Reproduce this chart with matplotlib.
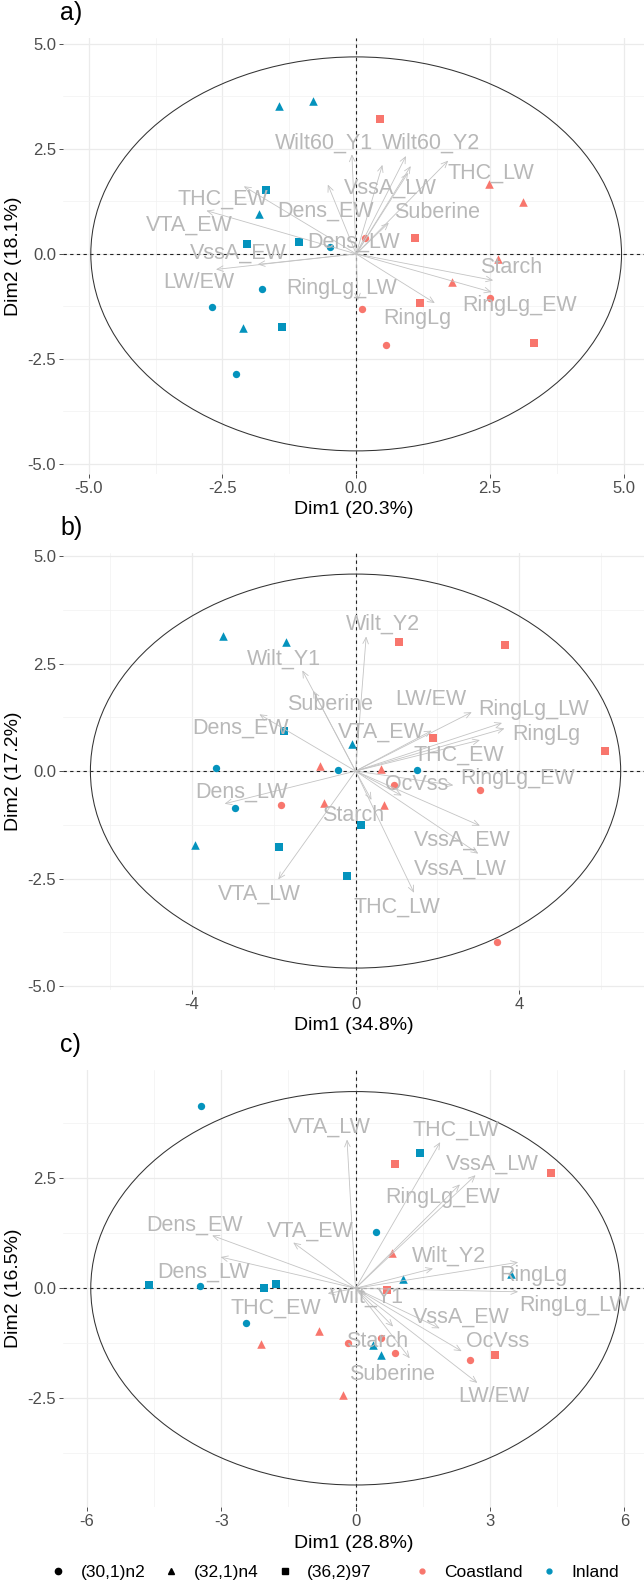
import matplotlib
matplotlib.use('Agg')
import matplotlib.pyplot as plt
from matplotlib.patches import Ellipse
from matplotlib.lines import Line2D

plt.rcParams['font.family'] = ['Liberation Sans', 'DejaVu Sans']
plt.rcParams['axes.unicode_minus'] = False

COAST = '#F8766D'
INLAND = '#0493BD'
REGION_COLORS = {'Coastland': COAST, 'Inland': INLAND}
CLONES = ['(30,1)n2', '(32,1)n4', '(36,2)97']
CLONE_MARKERS = {'(30,1)n2': 'o', '(32,1)n4': '^', '(36,2)97': 's'}
CLONE_SIZES = {'(30,1)n2': 28, '(32,1)n4': 38, '(36,2)97': 30}

# ---- panel a: individuals ----
a_x = [-1.45, -0.81, -1.68, -1.82, -2.05, -1.07, -0.49, -1.76, -2.70, -2.11, -1.38, -2.25,
       0.44, 2.48, 3.12, 0.16, 1.10, 2.65, 1.79, 2.50, 0.10, 1.19, 0.56, 3.33]
a_y = [3.52, 3.64, 1.51, 0.95, 0.23, 0.28, 0.16, -0.83, -1.26, -1.77, -1.75, -2.86,
       3.21, 1.67, 1.23, 0.37, 0.37, -0.13, -0.68, -1.04, -1.31, -1.18, -2.17, -2.11]
a_region = ['Inland'] * 12 + ['Coastland'] * 12
a_clone = ['(32,1)n4', '(32,1)n4', '(36,2)97', '(32,1)n4', '(36,2)97', '(36,2)97',
           '(30,1)n2', '(30,1)n2', '(30,1)n2', '(32,1)n4', '(36,2)97', '(30,1)n2',
           '(36,2)97', '(32,1)n4', '(32,1)n4', '(30,1)n2', '(36,2)97', '(32,1)n4',
           '(32,1)n4', '(30,1)n2', '(30,1)n2', '(36,2)97', '(30,1)n2', '(36,2)97']

# ---- panel a: variables ----
a_vars = ['Wilt60_Y1', 'Wilt60_Y2', 'THC_LW', 'VssA_LW', 'Dens_EW', 'Suberine', 'OcVss',
          'THC_EW', 'VTA_EW', 'Dens_LW', 'VssA_EW', 'LW/EW', 'RingLg_LW', 'Starch',
          'RingLg_EW', 'RingLg']
a_var_x = [-0.08, 0.93, 1.72, 0.49, -0.53, 1.02, 0.97, -2.10, -2.80, 0.61, -1.84, -2.62,
           0.03, 2.56, 2.53, 1.47]
a_var_y = [2.37, 2.33, 2.22, 2.12, 1.65, 2.09, 1.93, 1.61, 1.03, 0.74, -0.25, -0.37,
           -1.11, -0.63, -0.91, -1.17]
a_lab_x = [-0.61, 1.39, 2.52, 0.64, -0.57, 1.52, None, -2.49, -3.12, -0.04, -2.21, -2.95,
           -0.28, 2.89, 3.05, 1.14]
a_lab_y = [2.64, 2.63, 1.93, 1.57, 1.01, 0.99, None, 1.30, 0.69, 0.28, 0.02, -0.68,
           -0.82, -0.33, -1.23, -1.54]

# ---- panel b: individuals ----
b_x = [-3.25, -1.70, -1.76, -0.09, -3.42, -0.43, 1.50, -2.94, 0.13, -3.92, -1.86, -0.20,
       1.05, 3.66, 1.89, 6.10, -0.86, 0.61, 0.94, 3.05, -1.83, -0.78, 0.70, 3.46]
b_y = [3.14, 2.99, 0.93, 0.63, 0.06, 0.03, 0.02, -0.86, -1.25, -1.71, -1.76, -2.43,
       2.99, 2.94, 0.78, 0.46, 0.12, 0.04, -0.33, -0.44, -0.78, -0.74, -0.79, -3.97]
b_region = ['Inland'] * 12 + ['Coastland'] * 12
b_clone = ['(32,1)n4', '(32,1)n4', '(36,2)97', '(32,1)n4', '(30,1)n2', '(30,1)n2',
           '(30,1)n2', '(30,1)n2', '(36,2)97', '(32,1)n4', '(36,2)97', '(36,2)97',
           '(36,2)97', '(36,2)97', '(36,2)97', '(36,2)97', '(32,1)n4', '(32,1)n4',
           '(30,1)n2', '(30,1)n2', '(30,1)n2', '(32,1)n4', '(32,1)n4', '(30,1)n2']

# ---- panel b: variables ----
b_vars = ['Wilt_Y2', 'Wilt_Y1', 'Suberine', 'LW/EW', 'RingLg_LW', 'RingLg', 'VTA_EW',
          'THC_EW', 'Dens_EW', 'OcVss', 'RingLg_EW', 'Dens_LW', 'Starch', 'VssA_EW',
          'VssA_LW', 'VTA_LW', 'THC_LW']
b_var_x = [0.26, -1.30, -1.04, 2.84, 3.58, 3.64, 1.86, 3.04, -2.35, 2.39, 1.13, -3.20,
           0.39, 3.04, 3.00, -1.89, 1.43]
b_var_y = [3.13, 2.34, 1.87, 1.37, 1.12, 0.99, 0.94, 0.72, 1.32, -0.33, -0.57, -0.76,
           -0.67, -1.27, -1.92, -2.52, -2.83]
b_lab_x = [0.66, -1.75, -0.63, 1.85, 4.36, 4.66, 0.64, 2.53, -2.81, 1.50, 3.96, -2.79,
           -0.06, 2.62, 2.57, -2.35, 1.02]
b_lab_y = [3.41, 2.59, 1.55, 1.66, 1.44, 0.86, 0.91, 0.38, 0.99, -0.32, -0.18, -0.50,
           -1.03, -1.60, -2.28, -2.86, -3.17]

# ---- panel c: individuals ----
c_x = [-3.44, 1.43, 0.46, 1.06, 3.48, -4.61, -3.47, -2.05, -1.77, -2.44, 0.39, 0.56,
       0.88, 4.37, 0.82, 0.70, -0.82, -2.11, 0.56, -0.17, 0.88, 2.56, 3.12, -0.27]
c_y = [4.15, 3.07, 1.28, 0.20, 0.33, 0.07, 0.05, 0.00, 0.10, -0.78, -1.30, -1.52,
       2.82, 2.62, 0.81, -0.04, -0.97, -1.26, -1.13, -1.25, -1.47, -1.64, -1.51, -2.43]
c_region = ['Inland'] * 12 + ['Coastland'] * 12
c_clone = ['(30,1)n2', '(36,2)97', '(30,1)n2', '(32,1)n4', '(32,1)n4', '(36,2)97',
           '(30,1)n2', '(36,2)97', '(36,2)97', '(30,1)n2', '(32,1)n4', '(32,1)n4',
           '(36,2)97', '(36,2)97', '(32,1)n4', '(36,2)97', '(32,1)n4', '(32,1)n4',
           '(30,1)n2', '(30,1)n2', '(30,1)n2', '(30,1)n2', '(36,2)97', '(32,1)n4']

# ---- panel c: variables ----
c_vars = ['VTA_LW', 'THC_LW', 'VssA_LW', 'RingLg_EW', 'Dens_EW', 'VTA_EW', 'Dens_LW',
          'Wilt_Y2', 'RingLg', 'RingLg_LW', 'THC_EW', 'Wilt_Y1', 'VssA_EW', 'OcVss',
          'Starch', 'Suberine', 'LW/EW']
c_var_x = [-0.19, 1.89, 2.68, 2.33, -3.20, -1.39, -3.01, 1.73, 3.63, 3.63, -0.62, 0.25,
           1.88, 2.37, 0.84, 1.21, 2.72]
c_var_y = [3.38, 3.32, 2.57, 2.36, 1.20, 1.04, 0.71, 0.45, 0.59, -0.08, -0.12, -0.15,
           -0.91, -1.43, -0.87, -1.59, -2.15]
c_lab_x = [-0.59, 2.24, 3.06, 1.94, -3.59, -1.02, -3.40, 2.08, 3.98, 4.90, -1.77, 0.25,
           2.36, 3.18, 0.48, 0.82, 3.09]
c_lab_y = [3.65, 3.59, 2.83, 2.06, 1.43, 1.30, 0.36, 0.73, 0.28, -0.39, -0.45, -0.20,
           -0.65, -1.21, -1.22, -1.96, -2.46]

W, H = 644, 1583
fig = plt.figure(figsize=(W / 100, H / 100), dpi=100)


def add_ax(left, top, right, bottom):
    return fig.add_axes([left / W, 1 - bottom / H, (right - left) / W, (bottom - top) / H])


def draw_panel(ax, xs, ys, regions, clones, vars_, vx, vy, lx, ly,
               ell, xlim, ylim, xticks, xticklabels, xminor, yticks, yticklabels, yminor,
               xlabel, ylabel, tag):
    ax.set_xlim(*xlim)
    ax.set_ylim(*ylim)
    for s in ax.spines.values():
        s.set_visible(False)
    ax.set_xticks(xticks)
    ax.set_xticklabels(xticklabels)
    ax.set_yticks(yticks)
    ax.set_yticklabels(yticklabels)
    ax.set_xticks(xminor, minor=True)
    ax.set_yticks(yminor, minor=True)
    ax.tick_params(which='major', length=3, width=0.6, color='#333333',
                   labelsize=12, labelcolor='#4D4D4D', pad=2)
    ax.tick_params(which='minor', length=0)
    ax.set_axisbelow(True)
    ax.grid(which='major', color='#EBEBEB', lw=0.9)
    ax.grid(which='minor', color='#F2F2F2', lw=0.5)

    ax.axhline(0, color='#222222', lw=0.8, ls=(0, (3, 3)), zorder=1)
    ax.axvline(0, color='#222222', lw=0.8, ls=(0, (3, 3)), zorder=1)
    ax.add_patch(Ellipse((0, 0), 2 * ell[0], 2 * ell[1], fill=False,
                         ec='#333333', lw=0.75, zorder=1.5))

    for reg in ['Coastland', 'Inland']:
        for cl in CLONES:
            px = [x for x, r, c in zip(xs, regions, clones) if r == reg and c == cl]
            py = [y for y, r, c in zip(ys, regions, clones) if r == reg and c == cl]
            ax.scatter(px, py, marker=CLONE_MARKERS[cl], s=CLONE_SIZES[cl],
                       color=REGION_COLORS[reg], linewidths=0, zorder=2)

    for name, tx, ty, tlx, tly in zip(vars_, vx, vy, lx, ly):
        ax.annotate('', xy=(tx, ty), xytext=(0, 0),
                    arrowprops=dict(arrowstyle='->,head_length=0.45,head_width=0.2',
                                    color='#C4C4C4', lw=0.6, shrinkA=0, shrinkB=0),
                    zorder=3)
        if tlx is not None:
            ax.text(tlx, tly, name, color='#B8B8B8', fontsize=15.5,
                    ha='center', va='center', zorder=4)

    ax.set_xlabel(xlabel, fontsize=14, labelpad=4)
    ax.set_ylabel(ylabel, fontsize=14, labelpad=4)
    ax.text(-0.005, 1.03, tag, transform=ax.transAxes, fontsize=18,
            ha='left', va='bottom')


ticks_5 = [-5, -2.5, 0, 2.5, 5]
labels_5 = ['-5.0', '-2.5', '0.0', '2.5', '5.0']
minor_5 = [-3.75, -1.25, 1.25, 3.75]

ax_a = add_ax(63, 38, 644, 474)
draw_panel(ax_a, a_x, a_y, a_region, a_clone, a_vars, a_var_x, a_var_y, a_lab_x, a_lab_y,
           (4.96, 4.69), (-5.48, 5.38), (-5.24, 5.14),
           ticks_5, labels_5, minor_5, ticks_5, labels_5, minor_5,
           'Dim1 (20.3%)', 'Dim2 (18.1%)', 'a)')

ax_b = add_ax(63, 553, 644, 990)
draw_panel(ax_b, b_x, b_y, b_region, b_clone, b_vars, b_var_x, b_var_y, b_lab_x, b_lab_y,
           (6.48, 4.58), (-7.15, 7.05), (-5.09, 5.07),
           [-4, 0, 4], ['-4', '0', '4'], [-6, -2, 2, 6], ticks_5, labels_5, minor_5,
           'Dim1 (34.8%)', 'Dim2 (17.2%)', 'b)')

ax_c = add_ax(63, 1070, 644, 1507)
draw_panel(ax_c, c_x, c_y, c_region, c_clone, c_vars, c_var_x, c_var_y, c_lab_x, c_lab_y,
           (5.91, 4.47), (-6.53, 6.44), (-4.97, 4.96),
           [-6, -3, 0, 3, 6], ['-6', '-3', '0', '3', '6'], [-4.5, -1.5, 1.5, 4.5],
           [-2.5, 0, 2.5], ['-2.5', '0.0', '2.5'], [-3.75, -1.25, 1.25, 3.75],
           'Dim1 (28.8%)', 'Dim2 (16.5%)', 'c)')

# legends at the bottom
shape_handles = [Line2D([], [], ls='', marker=CLONE_MARKERS[c], color='black',
                        markersize=4.5, label=c) for c in CLONES]
color_handles = [Line2D([], [], ls='', marker='o', color=REGION_COLORS[r],
                        markersize=3.5, label=r) for r in ['Coastland', 'Inland']]
leg_y = 1 - 1572 / H
fig.legend(handles=shape_handles, loc='center left', bbox_to_anchor=(51 / W, leg_y),
           ncol=3, frameon=False, fontsize=12.5, handlelength=0.8, handletextpad=0.9,
           columnspacing=1.1, borderpad=0, borderaxespad=0)
fig.legend(handles=color_handles, loc='center left', bbox_to_anchor=(415 / W, leg_y),
           ncol=2, frameon=False, fontsize=12.5, handlelength=0.8, handletextpad=0.9,
           columnspacing=1.1, borderpad=0, borderaxespad=0)

fig.savefig('out.png', dpi=100)
